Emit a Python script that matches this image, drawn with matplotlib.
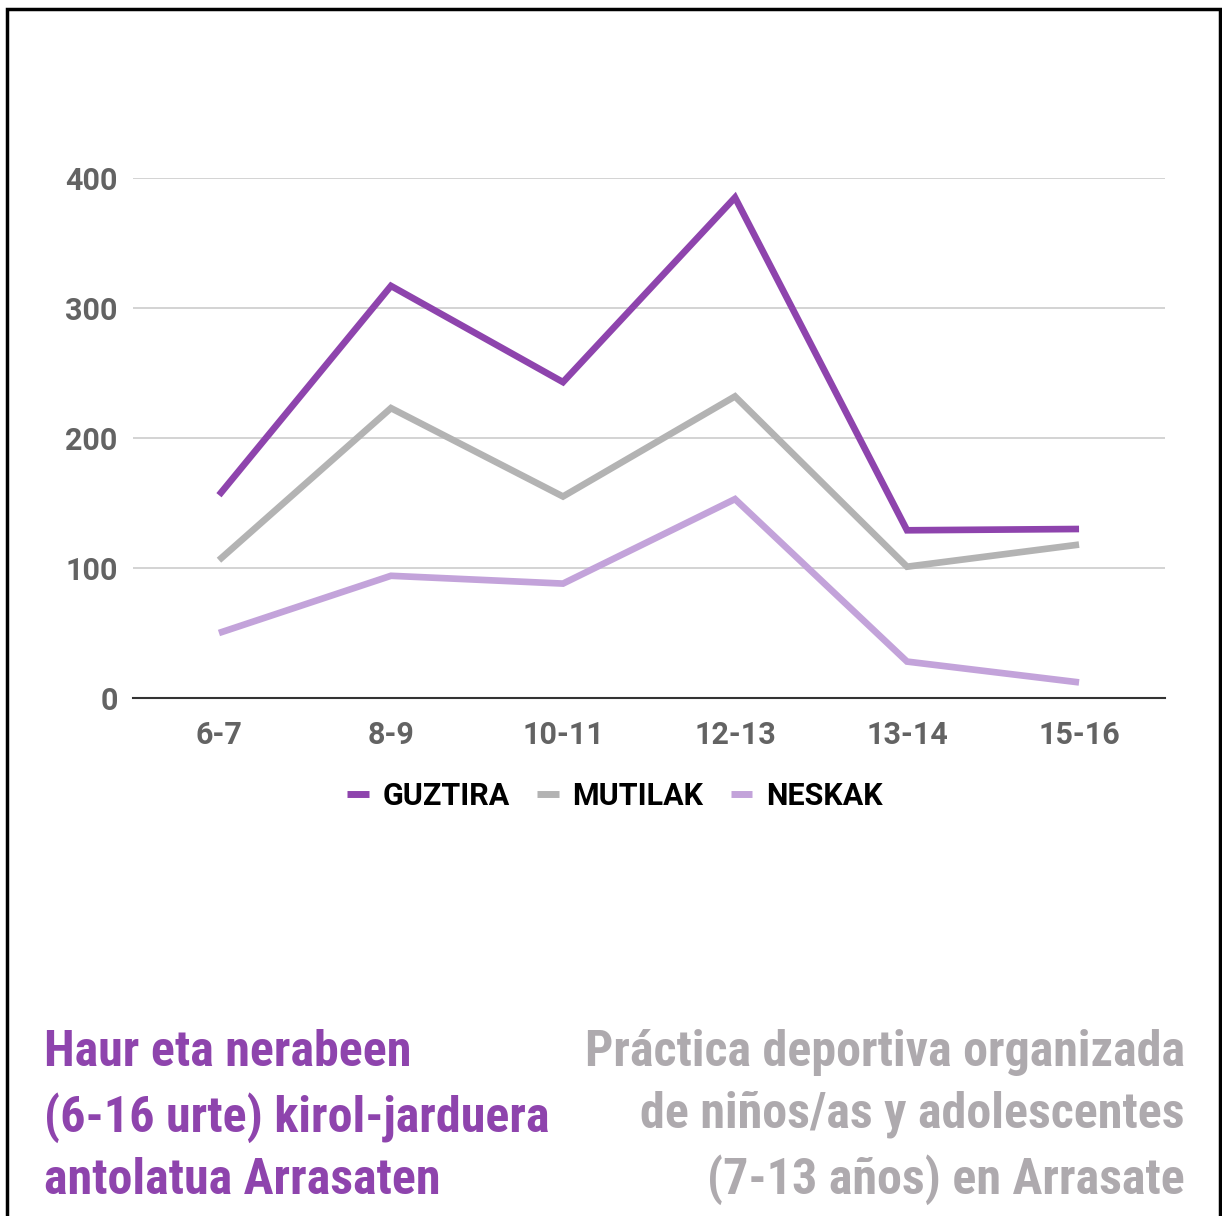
import matplotlib
matplotlib.use("Agg")
import matplotlib.pyplot as plt
from matplotlib.patches import Rectangle

# Age groups and counts of children in organised sport
age_groups = ["6-7", "8-9", "10-11", "12-13", "13-14", "15-16"]
guztira = [156, 317, 243, 385, 129, 130]
mutilak = [106, 223, 155, 232, 101, 118]
neskak = [50, 94, 88, 153, 28, 12]
y_ticks = [0, 100, 200, 300, 400]

series_names = ["GUZTIRA", "MUTILAK", "NESKAK"]
series_colors = ["#8e44ad", "#b3b3b3", "#c3a3da"]

title_eu = "Haur eta nerabeen\n(6-16 urte) kirol-jarduera\nantolatua Arrasaten"
title_es = "Práctica deportiva organizada\nde niños/as y adolescentes\n(7-13 años) en Arrasate"

tick_font = ["Roboto", "DejaVu Sans"]
title_font = ["Roboto Condensed", "Liberation Sans Narrow", "Open Sans", "DejaVu Sans"]

fig = plt.figure(figsize=(12.22, 12.16), dpi=100)
fig.patch.set_facecolor("white")

# frame round the whole figure
fig.patches.append(Rectangle((7 / 1222, -0.01), 1213 / 1222, (1216 - 9) / 1216 + 0.01,
                             transform=fig.transFigure, fill=False,
                             edgecolor="black", linewidth=2.5))

ax = fig.add_axes([0.1088, 0.426, 0.8446, 0.4276])
x = range(len(age_groups))
for vals, name, col in zip([guztira, mutilak, neskak], series_names, series_colors):
    ax.plot(x, vals, color=col, linewidth=4.8, label=name, clip_on=False,
            solid_joinstyle="miter", solid_capstyle="butt")

ax.set_xlim(-0.5, len(age_groups) - 0.5)
ax.set_ylim(0, 400)
ax.set_yticks(y_ticks)
ax.set_yticklabels([str(t) for t in y_ticks])
ax.set_xticks(list(x))
ax.set_xticklabels(age_groups)
ax.grid(axis="y", color="#cccccc", linewidth=1.2)
ax.set_axisbelow(True)
for side in ["top", "right", "left"]:
    ax.spines[side].set_visible(False)
ax.spines["bottom"].set_color("#333333")
ax.spines["bottom"].set_linewidth(1.5)
ax.tick_params(length=0, labelcolor="#636363", labelsize=22)
ax.tick_params(axis="x", pad=16)
ax.tick_params(axis="y", pad=11)
for lbl in ax.get_xticklabels() + ax.get_yticklabels():
    lbl.set_family(tick_font)
    lbl.set_fontweight("bold")

leg = ax.legend(loc="upper center", bbox_to_anchor=(0.467, -0.106), ncol=3,
                frameon=False, handlelength=0.7, handletextpad=0.45,
                columnspacing=0.9,
                prop={"family": tick_font, "weight": "bold", "size": 22})
for h in leg.get_lines():
    h.set_linewidth(5)

fig.text(44 / 1222, 1 - 1029 / 1216, title_eu, ha="left", va="top",
         family=title_font, fontweight="bold", fontsize=36, color="#8e44ad",
         linespacing=1.4)
fig.text(1185 / 1222, 1 - 1029 / 1216, title_es, ha="right", va="top",
         family=title_font, fontweight="bold", fontsize=36, color="#aeaaae",
         linespacing=1.4, multialignment="right")

fig.savefig("out.png", dpi=100)
